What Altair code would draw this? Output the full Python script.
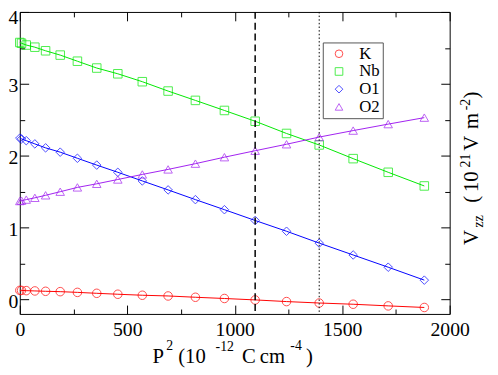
import altair as alt
import pandas as pd

# ---- data ----
p2 = [0, 8, 30, 70, 120, 188, 268, 358, 456, 570, 690, 817, 952, 1095, 1241, 1393, 1551, 1714, 1882]
vzz_K = [0.128, 0.127, 0.124, 0.120, 0.115, 0.110, 0.100, 0.087, 0.074, 0.060, 0.050, 0.032, 0.015,
         -0.005, -0.028, -0.048, -0.065, -0.088, -0.110]
vzz_Nb = [3.575, 3.565, 3.54, 3.51, 3.46, 3.40, 3.315, 3.22, 3.14, 3.03, 2.90, 2.77, 2.63,
          2.48, 2.31, 2.15, 1.96, 1.77, 1.58]
vzz_O1 = [2.245, 2.235, 2.21, 2.165, 2.11, 2.05, 1.965, 1.87, 1.77, 1.65, 1.525, 1.39, 1.25,
          1.10, 0.95, 0.785, 0.62, 0.45, 0.27]
vzz_O2 = [1.37, 1.375, 1.39, 1.415, 1.45, 1.50, 1.56, 1.61, 1.67, 1.74, 1.81, 1.89, 1.98,
          2.07, 2.16, 2.26, 2.35, 2.44, 2.53]
series = ["K", "Nb", "O1", "O2"]
colors = ["#ff0000", "#00e800", "#0000ff", "#a020f0"]
shapes = ["circle", "square", "diamond", "triangle-up"]
vline_dashed = [1095]
vline_dotted = [1393]
x_major = [0, 500, 1000, 1500, 2000]
x_minor = [250, 750, 1250, 1750]
y_major = [0, 1, 2, 3, 4]
y_minor = [0.5, 1.5, 2.5, 3.5]

rows = []
for name, vals in zip(series, [vzz_K, vzz_Nb, vzz_O1, vzz_O2]):
    for xv, yv in zip(p2, vals):
        rows.append({"P2": xv, "Vzz": yv, "atom": name})
df = pd.DataFrame(rows)

FONT = "Liberation Serif"
W, H = 437, 307
xs = alt.Scale(domain=[0, 2000], nice=False, zero=False)
ys = alt.Scale(domain=[-0.2, 4], nice=False, zero=False)


def tick_axis(orient, values, size):
    return alt.Axis(orient=orient, values=values, tickSize=size, offset=-size, labels=False,
                    domain=False, grid=False, title=None, ticks=True, tickColor="black",
                    tickWidth=1)


label_x = alt.Axis(orient="bottom", values=x_major, ticks=False, domain=False, grid=False,
                   title=None, labelFont=FONT, labelFontSize=20, labelColor="black",
                   labelPadding=6, labelFlush=False, format="d")
label_y = alt.Axis(orient="left", values=y_major, ticks=False, domain=False, grid=False,
                   title=None, labelFont=FONT, labelFontSize=20, labelColor="black",
                   labelPadding=2,
                   labelOffset={"condition": {"test": "datum.value == 4", "value": 6}, "value": 2},
                   format="d")

legend = alt.Legend(title=None, orient="none", legendX=308, legendY=31, strokeColor="#555555",
                    fillColor="white", padding=3, symbolOffset=5, labelFont=FONT,
                    labelFontSize=17, labelColor="black", labelOffset=12, rowPadding=0,
                    symbolStrokeWidth=1, symbolSize=60, labelLimit=200)

line_layers = []
for name, col in zip(series, colors):
    line_layers.append(
        alt.Chart(df).transform_filter(alt.datum.atom == name).mark_line(
            strokeWidth=1, color=col).encode(
            x=alt.X("P2:Q", scale=xs, axis=None),
            y=alt.Y("Vzz:Q", scale=ys, axis=None),
        )
    )

points = alt.Chart(df).mark_point(filled=False, strokeWidth=1, size=75).encode(
    x=alt.X("P2:Q", scale=xs, axis=tick_axis("bottom", x_major, 9)),
    y=alt.Y("Vzz:Q", scale=ys, axis=tick_axis("left", y_major, 9)),
    color=alt.Color("atom:N", scale=alt.Scale(domain=series, range=colors), legend=legend),
    shape=alt.Shape("atom:N", scale=alt.Scale(domain=series, range=shapes), legend=legend),
)


def helper(xaxis, yaxis):
    return alt.Chart(df).mark_point(opacity=0).encode(
        x=alt.X("P2:Q", scale=xs, axis=xaxis),
        y=alt.Y("Vzz:Q", scale=ys, axis=yaxis),
    )


h0 = helper(label_x, label_y)
h1 = helper(tick_axis("bottom", x_minor, 5), tick_axis("left", y_minor, 5))
h2 = helper(tick_axis("top", x_major, 9), tick_axis("right", y_major, 9))
h3 = helper(tick_axis("top", x_minor, 5), tick_axis("right", y_minor, 5))

dashed = alt.Chart(pd.DataFrame({"P2": vline_dashed})).mark_rule(
    color="black", strokeWidth=1.5, strokeDash=[7, 4]).encode(
    x=alt.X("P2:Q", scale=xs, axis=None))
dotted = alt.Chart(pd.DataFrame({"P2": vline_dotted})).mark_rule(
    color="black", strokeWidth=1, strokeDash=[1.5, 2.2]).encode(
    x=alt.X("P2:Q", scale=xs, axis=None))


def txt(s, x, y, size, angle=0):
    return alt.Chart(pd.DataFrame({"t": [s]})).mark_text(
        align="left", baseline="alphabetic", font=FONT, fontSize=size, angle=angle,
        color="black").encode(text="t:N", x=alt.value(x), y=alt.value(y))


# x-axis title  P^2 (10^-12 C cm^-4)
xt = [
    txt("P", 135, 357, 21), txt("2", 149, 344, 14), txt("(", 161, 357, 21),
    txt("10", 168, 357, 21), txt("-12", 199, 345, 14), txt("C", 226, 357, 21),
    txt("cm", 244, 357, 21), txt("-4", 275, 344, 14), txt(")", 291, 357, 21),
]
# right title  V_zz (10^21 V m^-2), reading upward
yt = [
    txt("V", 466, 237, 21, 270), txt("zz", 471, 219, 14, 270), txt("(", 466, 194, 21, 270),
    txt("10", 466, 183, 21, 270), txt("21", 458, 158, 14, 270), txt("V", 466, 141, 21, 270),
    txt("m", 466, 119, 21, 270), txt("-2", 458, 100, 14, 270), txt(")", 466, 88, 21, 270),
]

chart = alt.layer(h0, *line_layers, points, h1, h2, h3, dashed, dotted, *xt, *yt).resolve_axis(
    x="independent", y="independent"
).properties(
    width=W, height=H,
    autosize=alt.AutoSizeParams(type="none"),
    padding={"left": 12, "top": 1, "right": 41, "bottom": 56},
).configure_view(stroke="black", strokeWidth=1)

chart.save("out.html", embed_options={"renderer": "svg", "actions": False})
